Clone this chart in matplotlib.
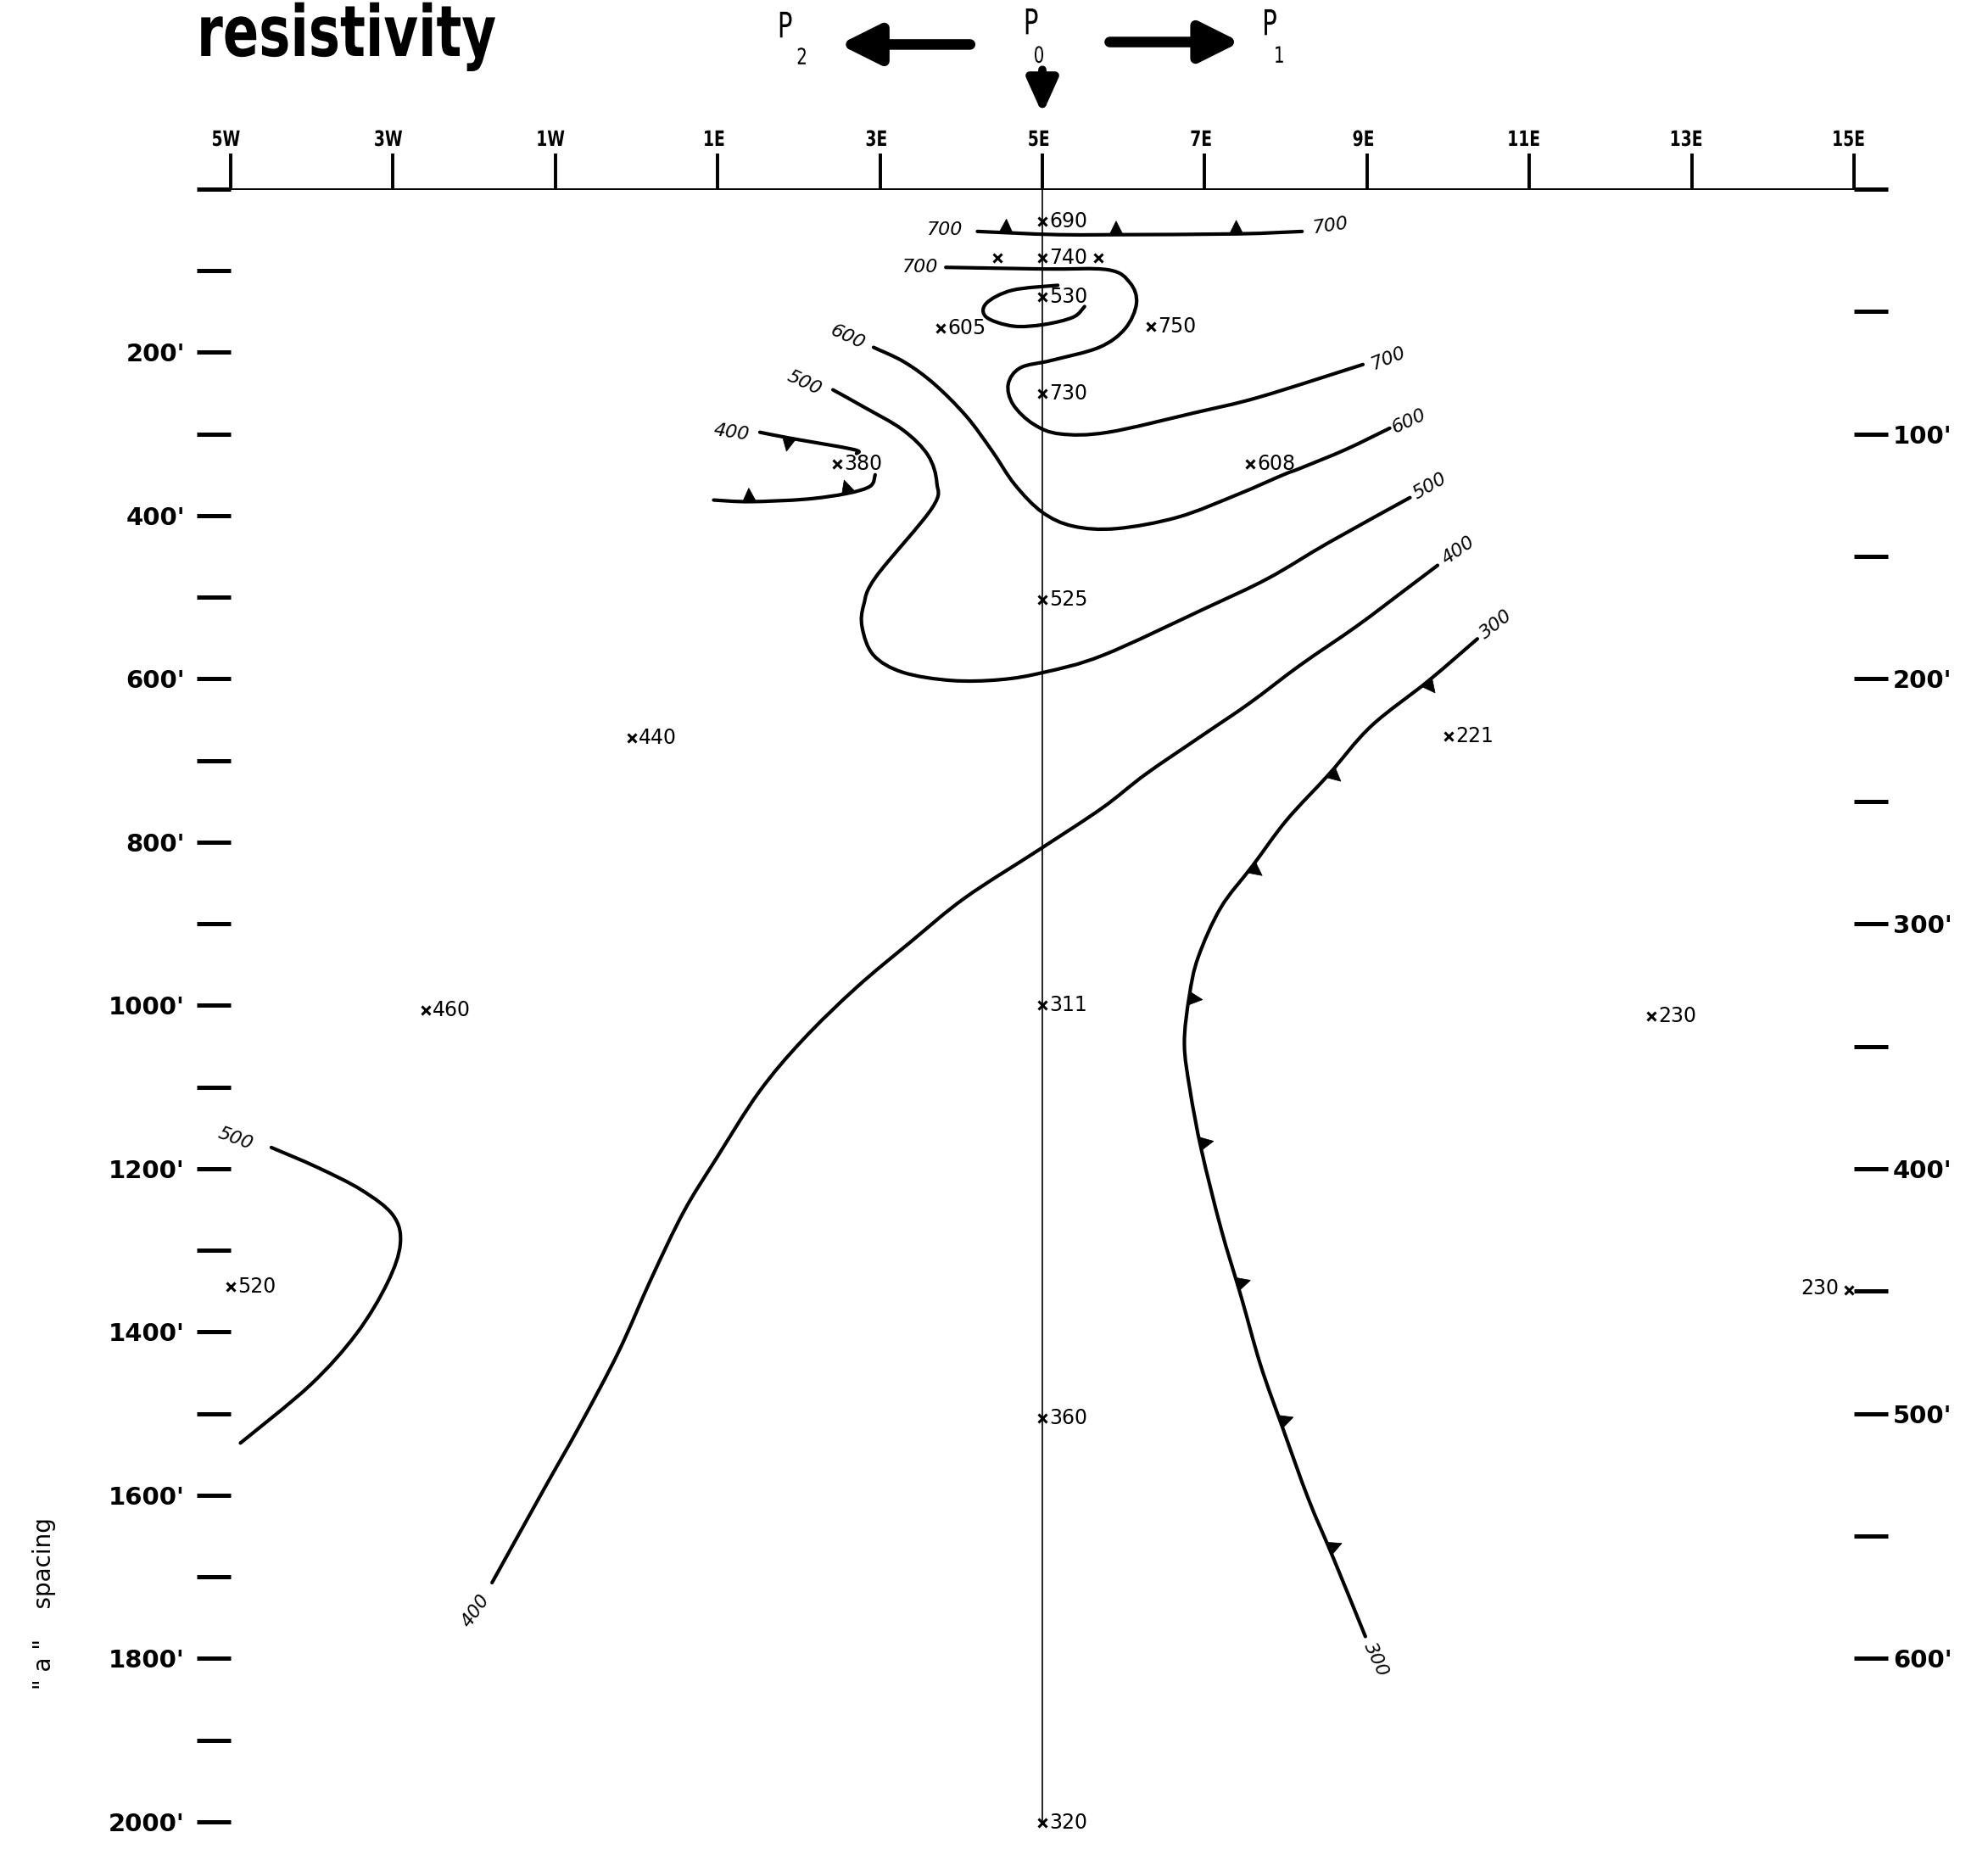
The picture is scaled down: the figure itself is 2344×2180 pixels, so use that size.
import numpy as np
import matplotlib
matplotlib.use('Agg')
import matplotlib.pyplot as plt
from matplotlib.path import Path
from matplotlib.patches import PathPatch, Polygon
from matplotlib.patheffects import AbstractPathEffect
from matplotlib.transforms import Affine2D

# stations along the line (W negative, E positive), depth in feet of "a" spacing
station_ticks = [-5, -3, -1, 1, 3, 5, 7, 9, 11, 13, 15]
station_labels = ['5W', '3W', '1W', '1E', '3E', '5E', '7E', '9E', '11E', '13E', '15E']
depth_ticks = list(range(0, 2001, 100))
depth_labels = ["%d'" % d if d % 200 == 0 and d > 0 else '' for d in depth_ticks]
right_ticks = list(range(0, 601, 50))
right_labels = ["%d'" % d if d % 100 == 0 and d > 0 else '' for d in right_ticks]

# measured values
pt_station = [5, 5, 5, 3.75, 6.34, 5, 2.47, 7.56, 5, -0.06, 10.0, -2.6, 5, 12.5, -5, 14.94, 5, 5]
pt_depth = [40, 84, 132, 171, 169, 251, 337, 337, 503, 672, 670, 1006, 1000, 1013, 1345, 1349, 1506, 2001]
pt_value = ['690', '740', '530', '605', '750', '730', '380', '608', '525', '440', '221', '460',
            '311', '230', '520', '230', '360', '320']
extra_station = [4.45, 5.69]
extra_depth = [84, 84]

# iso-resistivity lines
c700a_s = [4.2, 4.66, 5.2, 5.9, 7.4, 8.2]
c700a_d = [52, 54, 56, 56, 55, 52]
c700b_s = [3.81, 5.02, 5.81, 6.08, 6.16, 6.02, 5.70, 5.11, 4.73, 4.58, 4.64, 4.89, 5.22, 5.81, 6.88, 7.67, 8.95]
c700b_d = [96, 98, 99, 115, 140, 171, 194, 210, 219, 239, 264, 288, 300, 298, 274, 255, 215]
c530_s = [5.19, 4.63, 4.31, 4.31, 4.64, 5.02, 5.38, 5.52]
c530_d = [118, 124, 140, 157, 168, 166, 157, 144]
c600_s = [2.92, 3.30, 3.67, 4.06, 4.375, 4.66, 5.0, 5.38, 5.91, 6.67, 7.41, 7.97, 8.18, 8.74, 9.28]
c600_d = [194, 212, 239, 278, 320, 362, 396, 413, 416, 402, 374, 350, 342, 319, 293]
c500_s = [2.42, 2.80, 3.28, 3.59, 3.70, 3.64, 2.95, 2.80, 2.78, 2.92, 3.28, 3.88, 4.48, 5.02,
          5.75, 7.0, 7.78, 8.53, 9.53]
c500_d = [246, 267, 295, 326, 360, 391, 475, 509, 537, 571, 592, 602, 601, 592, 571, 514, 477, 433, 378]
c400top_s = [1.52, 1.88, 2.67, 2.71]
c400top_d = [298, 305, 319, 324]
c400bot_s = [2.94, 2.88, 2.59, 2.08, 1.39, 0.95]
c400bot_d = [350, 364, 373, 380, 383, 381]
c400_s = [9.87, 9.47, 8.88, 8.18, 7.55, 6.96, 6.27, 5.74, 4.98, 4.05, 3.38, 2.71, 2.05, 1.51, 0.98,
          0.58, 0.18, -0.22, -0.69, -1.16, -1.78]
c400_d = [461, 491, 535, 583, 630, 670, 717, 758, 808, 868, 922, 978, 1042, 1106, 1188, 1253, 1335,
          1424, 1513, 1596, 1707]
c300_s = [10.36, 9.75, 9.05, 8.53, 8.01, 7.59, 7.20, 6.92, 6.81, 6.75, 6.82, 6.96, 7.20, 7.45, 7.69,
          7.97, 8.28, 8.59, 8.98]
c300_d = [551, 603, 658, 717, 773, 829, 880, 941, 989, 1047, 1104, 1177, 1273, 1357, 1441, 1520, 1605,
          1678, 1773]
c500w_s = [-4.5, -3.94, -3.39, -3.0, -2.91, -3.07, -3.45, -4.02, -4.88]
c500w_d = [1174, 1198, 1226, 1257, 1292, 1340, 1402, 1465, 1536]

# teeth on the lines (toward the low side)
t700_s, t700_d = [4.55, 5.91, 7.39], [55, 56, 55]
t400top_s, t400top_d = [1.88], [305]
t400bot_s, t400bot_d = [1.39, 2.61], [383, 373]
t300_s = [9.75, 8.58, 7.59, 6.88, 7.02, 7.45, 7.96, 8.59]
t300_d = [606, 717, 832, 992, 1168, 1340, 1509, 1663]

# contour value labels: station, depth, text, rotation
clabels = [(3.80, 50, '700', 0), (8.55, 45, '700', 8), (3.50, 96, '700', 0), (9.27, 207, '700', 22),
           (2.60, 182, '600', -25), (9.52, 284, '600', 25), (2.07, 238, '500', -25), (9.77, 364, '500', 30),
           (1.17, 298, '400', -8), (10.13, 443, '400', 35), (-1.98, 1742, '400', 55),
           (10.59, 533, '300', 38), (9.11, 1801, '300', -65), (-4.94, 1163, '500', -20)]


class Squeeze(AbstractPathEffect):
    # narrows the glyphs horizontally about the text origin
    def __init__(self, sx):
        super().__init__()
        self.sx = sx

    def draw_path(self, renderer, gc, tpath, affine, rgbFace=None):
        ox, oy = affine.transform((0, 0))
        sq = Affine2D().translate(-ox, -oy).scale(self.sx, 1).translate(ox, oy)
        renderer.draw_path(gc, tpath, affine + sq, rgbFace)


def smooth_path(xs, ys):
    p = np.column_stack([xs, ys]).astype(float)
    n = len(p)
    verts, codes = [p[0]], [Path.MOVETO]
    for i in range(n - 1):
        p0, p1, p2, p3 = p[max(i - 1, 0)], p[i], p[i + 1], p[min(i + 2, n - 1)]
        verts += [p1 + (p2 - p0) / 6, p2 - (p3 - p1) / 6, p2]
        codes += [Path.CURVE4] * 3
    return Path(verts, codes)


def draw_teeth(ax, xs, ys, tx, ty, pref):
    line = ax.transData.transform(np.column_stack([xs, ys]))
    inv = ax.transData.inverted()
    for x0, y0 in zip(tx, ty):
        p = ax.transData.transform((x0, y0))
        best = None
        for a, b in zip(line[:-1], line[1:]):
            d = b - a
            t = np.clip(np.dot(p - a, d) / np.dot(d, d), 0, 1)
            q = a + t * d
            dist = np.hypot(*(p - q))
            if best is None or dist < best[0]:
                best = (dist, q, d / np.hypot(*d))
        _, q, u = best
        nrm = np.array([-u[1], u[0]])
        if np.dot(nrm, pref) < 0:
            nrm = -nrm
        tri = [q - u * 8, q + u * 8, q + nrm * 16]
        ax.add_patch(Polygon(inv.transform(tri), closed=True, fc='k', ec='k', lw=0.5, zorder=4))


fig = plt.figure(figsize=(23.44, 21.8), dpi=100)
ax = fig.add_axes([272 / 2344, 1 - 2148 / 2180, (2186 - 272) / 2344, (2148 - 222.8) / 2180])
ax.set_xlim(-5, 15)
ax.set_ylim(2000, 0)

ax.xaxis.tick_top()
ax.set_xticks(station_ticks)
ax.set_xticklabels(station_labels, weight='bold', fontsize=18)
for lab in ax.get_xticklabels():
    lab.set_path_effects([Squeeze(0.75)])
ax.tick_params(axis='x', direction='out', length=30, width=2.8, pad=3)
ax.set_yticks(depth_ticks)
ax.set_yticklabels(depth_labels, fontsize=21, weight='bold')
ax.tick_params(axis='y', direction='out', length=29, width=3.6, pad=10)
for side in ['left', 'right', 'bottom']:
    ax.spines[side].set_visible(False)
ax.spines['top'].set_linewidth(1.4)

secax = ax.secondary_yaxis('right', functions=(lambda d: d / 3, lambda a: a * 3))
secax.set_yticks(right_ticks)
secax.set_yticklabels(right_labels, fontsize=21, weight='bold')
secax.tick_params(direction='out', length=29, width=3.6, pad=4)
secax.spines['right'].set_visible(False)

# centre line under P0
ax.plot([5, 5], [0, 2000], color='k', lw=1.2, zorder=2)

lines = [(c700a_s, c700a_d), (c700b_s, c700b_d), (c530_s, c530_d), (c600_s, c600_d),
         (c500_s, c500_d), (c400top_s, c400top_d), (c400bot_s, c400bot_d), (c400_s, c400_d),
         (c300_s, c300_d), (c500w_s, c500w_d)]
for xs, ys in lines:
    ax.add_patch(PathPatch(smooth_path(xs, ys), fill=False, ec='k', lw=3,
                           capstyle='round', joinstyle='round', zorder=3))

draw_teeth(ax, c700a_s, c700a_d, t700_s, t700_d, np.array([0, 1]))
draw_teeth(ax, c400top_s, c400top_d, t400top_s, t400top_d, np.array([0, -1]))
draw_teeth(ax, c400bot_s, c400bot_d, t400bot_s, t400bot_d, np.array([0, 1]))
draw_teeth(ax, c300_s, c300_d, t300_s, t300_d, np.array([1, 0]))

for x, y, txt, rot in clabels:
    ax.text(x, y, txt, rotation=rot, fontsize=16, style='italic', ha='center', va='center',
            rotation_mode='anchor')

ax.plot(pt_station, pt_depth, linestyle='none', marker='x', ms=7, mew=2.2, color='k', zorder=5, clip_on=False)
ax.plot(extra_station, extra_depth, linestyle='none', marker='x', ms=7, mew=2.2, color='k', zorder=5)
for x, y, v in zip(pt_station, pt_depth, pt_value):
    if x > 14.5:
        ax.annotate(v, (x, y), xytext=(-9, 2), textcoords='offset points', ha='right', va='center',
                    fontsize=17)
    else:
        ax.annotate(v, (x, y), xytext=(6, 0), textcoords='offset points', ha='left', va='center',
                    fontsize=17, annotation_clip=False)

# electrode arrows
arrow = dict(arrowstyle='-|>,head_length=1.0,head_width=0.5', lw=9, color='k', mutation_scale=28,
             shrinkA=0, shrinkB=0)
ax.annotate('', xy=(2.5, -177), xytext=(4.11, -177), arrowprops=arrow, annotation_clip=False)
ax.annotate('', xy=(7.44, -180), xytext=(5.83, -180), arrowprops=arrow, annotation_clip=False)
down = dict(arrowstyle='-|>,head_length=1.0,head_width=0.45', lw=7, color='k', mutation_scale=24,
            shrinkA=0, shrinkB=0)
ax.annotate('', xy=(5.0, -92), xytext=(5.0, -146), arrowprops=down, annotation_clip=False)
for x, y, t, sx, sy, s in [(1.87, -198, 'P', 2.06, -160, '2'), (4.9, -202, 'P', 4.98, -162, '0'),
                            (7.84, -201, 'P', 7.94, -162, '1')]:
    ax.text(x, y, t, fontsize=30, ha='center', va='center', clip_on=False,
            path_effects=[Squeeze(0.7)])
    ax.text(sx, sy, s, fontsize=19, ha='center', va='center', clip_on=False,
            path_effects=[Squeeze(0.75)])

fig.text(232 / 2344, 1 - 66 / 2180, 'resistivity', fontsize=60, weight='bold',
         ha='left', va='baseline', path_effects=[Squeeze(0.75)])
fig.text(52 / 2344, 1 - 1891 / 2180, '" a "    spacing', rotation=90, fontsize=20,
         ha='center', va='center')

fig.savefig('out.png', dpi=100, facecolor='white')
